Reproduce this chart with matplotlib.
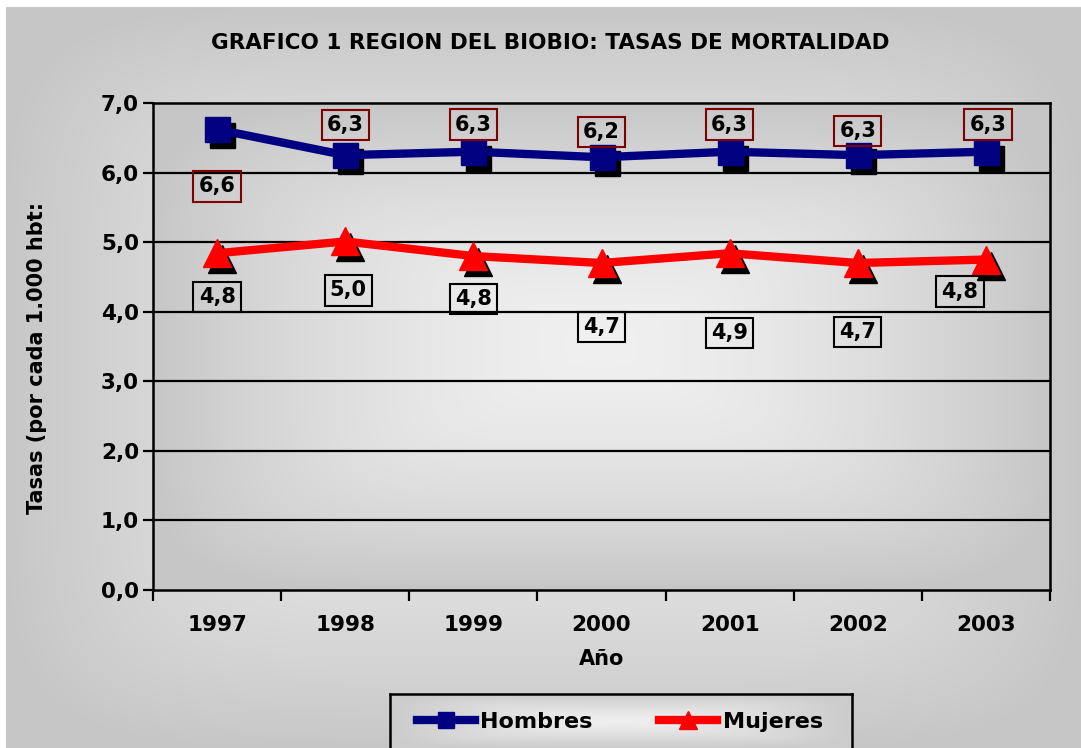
import numpy as np
import matplotlib
matplotlib.use("Agg")
import matplotlib.pyplot as plt
from matplotlib.lines import Line2D
import matplotlib.transforms as mtransforms

# ---- data ----
years = ["1997", "1998", "1999", "2000", "2001", "2002", "2003"]
hombres = [6.62, 6.25, 6.30, 6.22, 6.30, 6.25, 6.30]
mujeres = [4.84, 5.01, 4.80, 4.70, 4.84, 4.70, 4.75]
hombres_labels = ["6,6", "6,3", "6,3", "6,2", "6,3", "6,3", "6,3"]
mujeres_labels = ["4,8", "5,0", "4,8", "4,7", "4,9", "4,7", "4,8"]
yticks = [0, 1, 2, 3, 4, 5, 6, 7]
ytick_labels = ["0,0", "1,0", "2,0", "3,0", "4,0", "5,0", "6,0", "7,0"]

# label offsets (pixels) – style only
h_off = [(0, -57), (0, 30), (0, 27), (0, 25), (0, 27), (0, 24), (2, 27)]
m_off = [(0, -44), (3, -49), (0, -43), (0, -64), (0, -80), (0, -69), (-26, -32)]

W, H = 1081, 748
fig = plt.figure(figsize=(W / 100, H / 100), dpi=100)
fig.patch.set_facecolor("white")


def gradient(nx, ny, dark, light, p=1.6, e=6):
    x = np.linspace(-1, 1, nx)
    y = np.linspace(-1, 1, ny)
    X, Y = np.meshgrid(x, y)
    t = (np.abs(X) ** e + np.abs(Y) ** e) ** (1.0 / e)
    t = np.clip(t, 0, 1) ** p
    v = light - (light - dark) * t
    return np.dstack([v, v, v])


# figure background
bg = fig.add_axes([6 / W, 0, 1 - 6 / W, 1 - 7 / H], zorder=-10)
bg.imshow(gradient(300, 200, 0.78, 0.92, p=1.8), aspect="auto", extent=[0, 1, 0, 1], interpolation="bilinear")
bg.set_axis_off()

L, R, T, B = 153, 1050, 103, 590
rect = [L / W, 1 - B / H, (R - L) / W, (B - T) / H]

pbg = fig.add_axes(rect, zorder=-5)
pbg.imshow(gradient(300, 200, 0.78, 0.94, p=1.6), aspect="auto", extent=[0, 1, 0, 1], interpolation="bilinear")
pbg.set_axis_off()

ax = fig.add_axes(rect)
ax.set_facecolor("none")
x = np.arange(len(years))
ax.set_xlim(-0.5, len(years) - 0.5)
ax.set_ylim(0, 7)

for yv in yticks[1:-1]:
    ax.axhline(yv, color="black", lw=1.6, zorder=1)

# shadows
sh = mtransforms.offset_copy(ax.transData, fig=fig, x=5, y=-6, units="dots")
ax.plot(x, hombres, "s", color="black", ms=18, transform=sh, zorder=2)
ax.plot(x, mujeres, "^", color="black", ms=20, transform=sh, zorder=2)

ax.plot(x, hombres, "-", color="#000080", lw=6, marker="s", ms=18, zorder=3)
ax.plot(x, mujeres, "-", color="#FF0000", lw=6, marker="^", ms=20, zorder=3)

for xi, v, lab, off in zip(x, hombres, hombres_labels, h_off):
    ax.annotate(lab, (xi, v), xytext=off, textcoords="offset pixels", ha="center", va="center",
                fontsize=15, fontweight="bold", zorder=5,
                bbox=dict(boxstyle="square,pad=0.25", fc="none", ec="#800000", lw=1.5))
for xi, v, lab, off in zip(x, mujeres, mujeres_labels, m_off):
    ax.annotate(lab, (xi, v), xytext=off, textcoords="offset pixels", ha="center", va="center",
                fontsize=15, fontweight="bold", zorder=5,
                bbox=dict(boxstyle="square,pad=0.25", fc="none", ec="black", lw=1.5))

ax.set_yticks(yticks)
ax.set_yticklabels(ytick_labels, fontsize=15.5, fontweight="bold")
ax.set_xticks(x)
ax.set_xticklabels(years, fontsize=15.5, fontweight="bold")
ax.tick_params(axis="x", length=0, pad=18)
ax.set_xticks(np.arange(-0.5, len(years) + 0.5, 1), minor=True)
ax.tick_params(axis="x", which="minor", length=8, width=1.6, direction="out")
ax.tick_params(axis="y", length=7, width=1.6, direction="out", pad=3)
for s in ax.spines.values():
    s.set_linewidth(1.8)
    s.set_color("black")

ax.set_xlabel("Año", fontsize=15, fontweight="bold", labelpad=10)
fig.text(37 / W, 1 - 358 / H, "Tasas (por cada 1.000 hbt:", rotation=90, ha="center", va="center",
         fontsize=15, fontweight="bold")
fig.text(550 / W, 1 - 43 / H, "GRAFICO 1 REGION DEL BIOBIO: TASAS DE MORTALIDAD", ha="center", va="center",
         fontsize=15.5, fontweight="bold")

# legend box
lx0, lx1, ly0 = 390, 852, 694
lax = fig.add_axes([lx0 / W, 0, (lx1 - lx0) / W, 1 - ly0 / H], zorder=1)
lax.imshow(gradient(200, 60, 0.8, 0.94, p=1.2), aspect="auto", extent=[0, 1, 0, 1])
lax.set_xticks([]); lax.set_yticks([])
for s in lax.spines.values():
    s.set_linewidth(1.8)
lax.spines["bottom"].set_visible(False)
handles = [Line2D([], [], color="#000080", lw=6, marker="s", ms=12),
           Line2D([], [], color="#FF0000", lw=6, marker="^", ms=13)]
leg = fig.legend(handles, ["Hombres", "Mujeres"], loc="center", bbox_to_anchor=(620 / W, 1 - 722 / H),
                 ncol=2, frameon=False, handlelength=2.6, handletextpad=0.25, columnspacing=3.0,
                 prop=dict(size=16, weight="bold"))
leg.set_zorder(5)

fig.savefig("out.png", dpi=100)
